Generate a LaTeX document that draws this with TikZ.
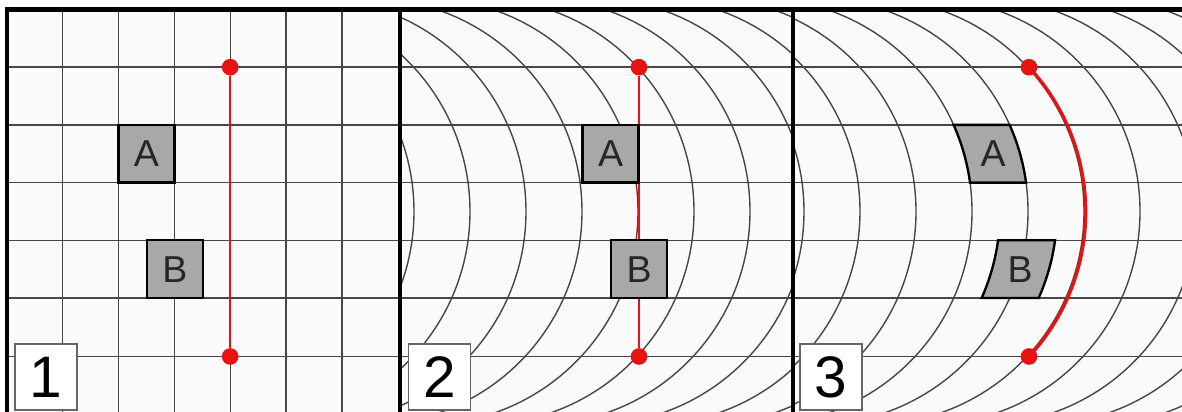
\documentclass[tikz,border=0pt]{standalone}
\usepackage{fontspec}
\setmainfont{Liberation Sans}
\definecolor{dotred}{RGB}{232,18,18}
\definecolor{boxgray}{RGB}{168,168,168}

\begin{document}
\begin{tikzpicture}[x=0.15cm, y=-0.15cm,
  gridline/.style={black!72, line width=0.6pt},
  border/.style={black, line width=1.9pt},
  block/.style={draw=black, line width=1pt, fill=boxgray, inner sep=0pt,
    minimum width=0.84cm, minimum height=0.866cm, text=black!85,
    font=\fontsize{16}{18}\selectfont},
  bentblock/.style={draw=black, line width=1pt, fill=boxgray},
  numbox/.style={draw=black!60, line width=0.6pt, fill=white, inner sep=0pt,
    minimum width=0.93cm, minimum height=0.99cm, font=\fontsize{25}{28}\selectfont},
  reddot/.style={circle, fill=dotred, inner sep=0pt, minimum size=0.25cm},
  redline/.style={dotred, line width=0.9pt},
  redarc/.style={dotred, line width=1.4pt}]
  \useasboundingbox (0,0) rectangle (118.2,41.2);
  \fill[black!2] (0.7,0.93) rectangle (118.2,41.2);
  \foreach \y in {6.72,12.49,18.26,24.03,29.8,35.65}
    \draw[gridline] (0.7,\y) -- (118.2,\y);
  \foreach \x in {6.25,11.84,17.43,23.02,28.61,34.2}
    \draw[gridline] (\x,0.93) -- (\x,41.2);
  \begin{scope}
    \clip (40,0.93) rectangle (79.3,41.2);
    \foreach \c in {41.4,47.0,...,92.0}
      \draw[gridline] ({\c-21.3},-0.15) arc[start angle=-90, end angle=90, radius=21.3];
  \end{scope}
  \begin{scope}
    \clip (79.3,0.93) rectangle (118.2,41.2);
    \foreach \c in {80.4,86.0,...,131.0}
      \draw[gridline] ({\c-21.3},-0.15) arc[start angle=-90, end angle=90, radius=21.3];
  \end{scope}

  \node[reddot] (d1a) at (23.02,6.72) {};
  \node[reddot] (d1b) at (23.02,35.65) {};
  \draw[redline] (d1a) -- (d1b);
  \node[block] (a1) at (14.64,15.375) {A};
  \node[block] (b1) at (17.5,26.915) {B};

  \node[reddot] (d2a) at (63.9,6.72) {};
  \node[reddot] (d2b) at (63.9,35.65) {};
  \draw[redline] (d2a) -- (d2b);
  \node[block] (a2) at (61.05,15.375) {A};
  \node[block] (b2) at (63.9,26.915) {B};

  \draw[bentblock] plot[variable=\t, domain=12.49:18.26]
      ({75.9+sqrt(453.69-(\t-21.15)*(\t-21.15))},\t)
    -- plot[variable=\t, domain=18.26:12.49]
      ({81.5+sqrt(453.69-(\t-21.15)*(\t-21.15))},\t) -- cycle;
  \draw[bentblock] plot[variable=\t, domain=24.03:29.8]
      ({78.7+sqrt(453.69-(\t-21.15)*(\t-21.15))},\t)
    -- plot[variable=\t, domain=29.8:24.03]
      ({84.4+sqrt(453.69-(\t-21.15)*(\t-21.15))},\t) -- cycle;
  \node[text=black!85, font=\fontsize{16}{18}\selectfont] (a3) at (99.3,15.375) {A};
  \node[text=black!85, font=\fontsize{16}{18}\selectfont] (b3) at (102.0,26.915) {B};
  \node[reddot] (d3a) at (102.9,6.72) {};
  \node[reddot] (d3b) at (102.9,35.65) {};
  \draw[redarc] (d3a.center) arc[start angle=-42.8, end angle=42.8, radius=21.3];

  \node[numbox] (n1) at (4.6,37.7) {1};
  \node[numbox] (n2) at (43.95,37.7) {2};
  \node[numbox] (n3) at (83.1,37.7) {3};

  \draw[border] (0.7,41.2) -- (0.7,0.93) -- (118.2,0.93);
  \draw[border] (40,0.93) -- (40,41.2);
  \draw[border] (79.3,0.93) -- (79.3,41.2);
\end{tikzpicture}
\end{document}
